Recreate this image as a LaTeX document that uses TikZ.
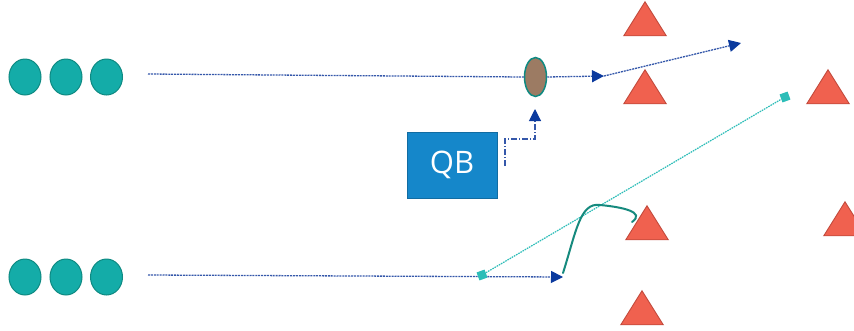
\documentclass[tikz,border=0pt]{standalone}
\usepackage{fontspec}
\setsansfont{Open Sans}
\usetikzlibrary{arrows.meta,shapes.geometric}
\definecolor{player}{HTML}{14ACA8}
\definecolor{playeredge}{HTML}{0E8A82}
\definecolor{defender}{HTML}{F0614F}
\definecolor{defedge}{HTML}{C24A3C}
\definecolor{route}{HTML}{3558AA}
\definecolor{tip}{HTML}{0B3A9E}
\definecolor{pass}{HTML}{2DBDB8}
\definecolor{qbbox}{HTML}{1587CA}
\definecolor{ball}{HTML}{9C7B63}
\definecolor{curl}{HTML}{168A7E}
\tikzset{
  player/.style={ellipse,draw=playeredge,line width=1pt,fill=player,minimum width=32pt,minimum height=36pt,inner sep=0pt},
  defender/.style={isosceles triangle,isosceles triangle apex angle=64,shape border rotate=90,draw=defedge,line width=0.9pt,fill=defender,minimum height=34pt,inner sep=0pt},
  runline/.style={draw=route,line width=1.3pt,dash pattern=on 2pt off 0.9pt},
  tipped/.style={-{Triangle[length=12pt,width=12pt,fill=tip,color=tip]}},
  passline/.style={draw=pass,line width=1.2pt,dash pattern=on 1.6pt off 0.9pt},
  marker/.style={rectangle,fill=pass,minimum size=8.5pt,inner sep=0pt,rotate=20},
}
\begin{document}
\begin{tikzpicture}[x=1pt,y=-1pt]
\useasboundingbox (0,0) rectangle (854,330);

% offensive players
\node[player] (a1) at (25,77) {};
\node[player] (a2) at (66,77) {};
\node[player] (a3) at (106.5,77) {};
\node[player] (b1) at (25,277) {};
\node[player] (b2) at (66,277) {};
\node[player] (b3) at (106.5,277) {};

% defenders
\node[defender] (d1) at (645,24) {};
\node[defender] (d2) at (645,92) {};
\node[defender] (d3) at (828,92) {};
\node[defender] (d4) at (647,228) {};
\node[defender] (d5) at (845,224) {};
\node[defender] (d6) at (642,313) {};

% ball and quarterback
\node[ellipse,draw=playeredge,line width=1.5pt,fill=ball,minimum width=22pt,minimum height=39pt,inner sep=0pt] (ball) at (535.5,77) {};
\node[rectangle,fill=qbbox,draw=qbbox!80!black,line width=0.6pt,minimum width=90pt,minimum height=66pt,font=\sffamily\fontsize{31}{31}\selectfont,text=white] (qb) at (452,165) {QB};

% coordinates for route ends
\coordinate (t0) at (148,74);
\coordinate (t1) at (604,76);
\coordinate (t2) at (741,43);
\coordinate (b0) at (148,275);
\coordinate (b4) at (563,277);
\coordinate (q1) at (505,166);
\coordinate (q2) at (505,139);
\coordinate (q3) at (535,139);
\coordinate (q4) at (535,109);

% top route
\draw[runline] (t0) -- (ball.west);
\draw[runline,tipped] (ball.east) -- (t1);
\draw[runline,tipped] (t1) -- (t2);

% snap path from the QB
\draw[draw=route,line width=1.1pt,dash pattern=on 6pt off 2pt on 1pt off 2pt,tipped] (q1) -- (q2) -- (q3) -- (q4);

% bottom route
\draw[runline,tipped] (b0) -- (b4);

% pass line with markers
\node[marker] (m1) at (482,275) {};
\node[marker] (m2) at (785,97) {};
\draw[passline] (m1) -- (m2);

% curl route
\draw[curl,line width=2pt,line cap=round] (563,273) .. controls (576,232) and (580,202) .. (600,205) .. controls (622,207) and (646,212) .. (632,222);
\end{tikzpicture}
\end{document}
